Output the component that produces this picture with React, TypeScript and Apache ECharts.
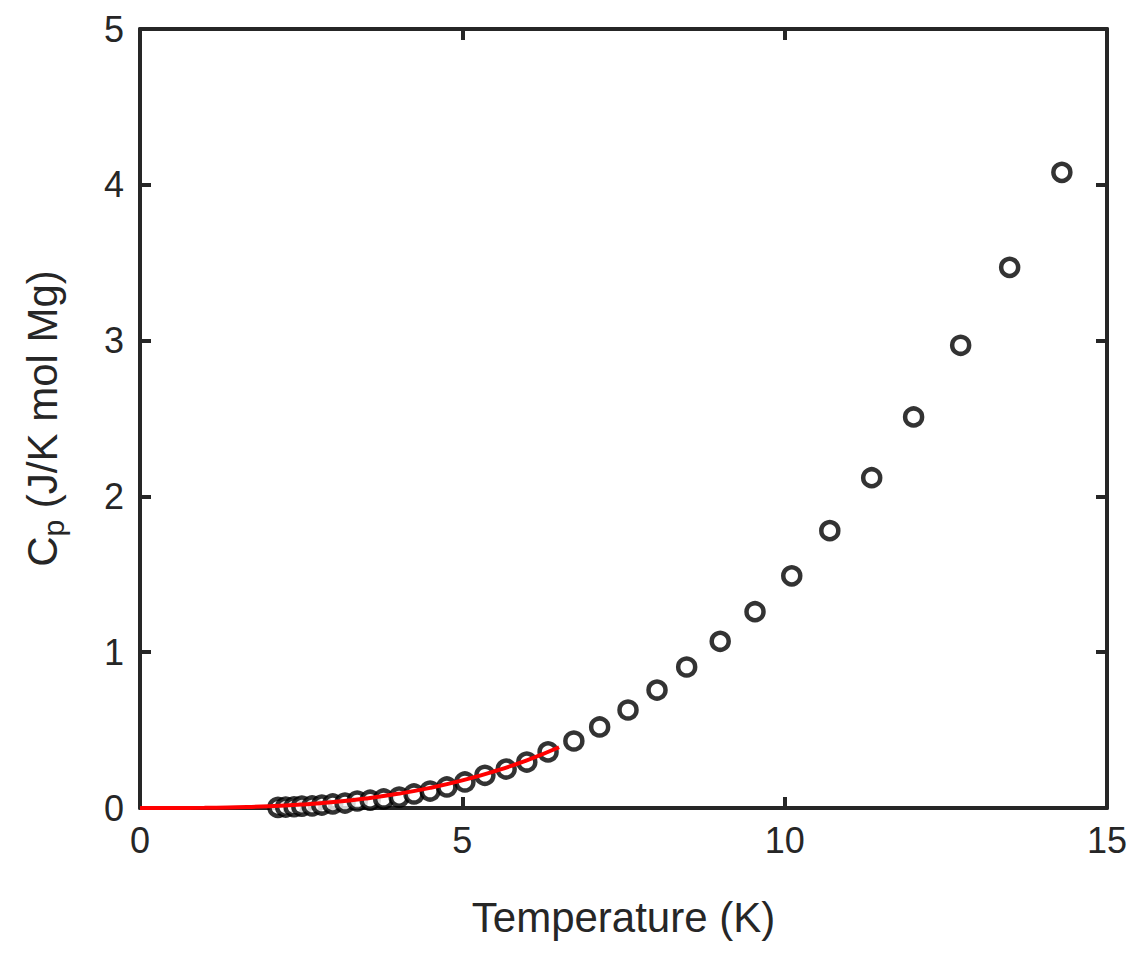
import React, { useEffect, useRef } from 'react';
import * as echarts from 'echarts';

const tempData = [2.14, 2.26, 2.39, 2.51, 2.67, 2.82, 2.99, 3.18, 3.37, 3.57, 3.78, 4.02, 4.25, 4.5, 4.76, 5.04, 5.35, 5.68, 6.0, 6.33, 6.73, 7.13, 7.57, 8.02, 8.48, 9.0, 9.54, 10.11, 10.7, 11.35, 12.0, 12.73, 13.49, 14.3];
const cpData = [0.004, 0.006, 0.008, 0.012, 0.013, 0.019, 0.026, 0.032, 0.045, 0.05, 0.058, 0.07, 0.09, 0.109, 0.135, 0.167, 0.21, 0.25, 0.295, 0.36, 0.43, 0.52, 0.629, 0.757, 0.905, 1.07, 1.26, 1.49, 1.78, 2.12, 2.51, 2.97, 3.47, 4.08];

const fitT = [0, 0.5, 1, 1.5, 2, 2.5, 3, 3.5, 4, 4.5, 5, 5.5, 6, 6.5];
const fitCp = [0, 0, 0.001, 0.005, 0.011, 0.022, 0.038, 0.061, 0.091, 0.129, 0.177, 0.236, 0.306, 0.39];

const dark = '#262626';

const App: React.FC = () => {
	const ref = useRef<HTMLDivElement | null>(null);

	useEffect(() => {
		if (!ref.current) return;
		const chart = echarts.init(ref.current, undefined, { renderer: 'svg' });
		const font = 'Liberation Sans, Arial, sans-serif';
		const axisCommon = {
			axisLine: { show: true, onZero: false, lineStyle: { color: dark, width: 4 } },
			axisTick: { show: true, inside: true, length: 11, lineStyle: { color: dark, width: 4 } },
			splitLine: { show: false },
		};
		chart.setOption({
			animation: false,
			grid: { left: 140, right: 31, top: 29, bottom: 145 },
			xAxis: [
				{
					...axisCommon, type: 'value', min: 0, max: 15, interval: 5,
					name: 'Temperature (K)', nameLocation: 'middle', nameGap: 88,
					nameTextStyle: { fontSize: 42, color: dark, fontFamily: font },
					axisLabel: { fontSize: 36, color: dark, fontFamily: font, margin: 14 },
				},
				{ ...axisCommon, type: 'value', position: 'top', min: 0, max: 15, interval: 5, axisLabel: { show: false } },
			],
			yAxis: [
				{
					...axisCommon, type: 'value', min: 0, max: 5, interval: 1,
					name: '{a|C}{s|p}{a| (J/K mol Mg)}', nameLocation: 'middle', nameGap: 72,
					nameTextStyle: {
						rich: {
							a: { fontSize: 42, color: dark, fontFamily: font },
							s: { fontSize: 30, color: dark, fontFamily: font, verticalAlign: 'bottom', padding: [22, 0, 0, 0] },
						},
					},
					axisLabel: { fontSize: 36, color: dark, fontFamily: font, margin: 16 },
				},
				{ ...axisCommon, type: 'value', position: 'right', min: 0, max: 5, interval: 1, axisLabel: { show: false } },
			],
			series: [
				{
					type: 'line',
					data: fitT.map((t, i) => [t, fitCp[i]]),
					showSymbol: false,
					smooth: true,
					lineStyle: { color: '#ff0000', width: 4 },
					z: 3,
				},
				{
					type: 'scatter',
					data: tempData.map((t, i) => [t, cpData[i]]),
					symbol: 'circle',
					symbolSize: 17,
					itemStyle: { color: '#ffffff', borderColor: '#000000', borderWidth: 4.5 },
					z: 2,
				},
			],
		});
		return () => chart.dispose();
	}, []);

	return <div ref={ref} style={{ width: '1138px', height: '953px', margin: '-8px' }} />;
};

export default App;
